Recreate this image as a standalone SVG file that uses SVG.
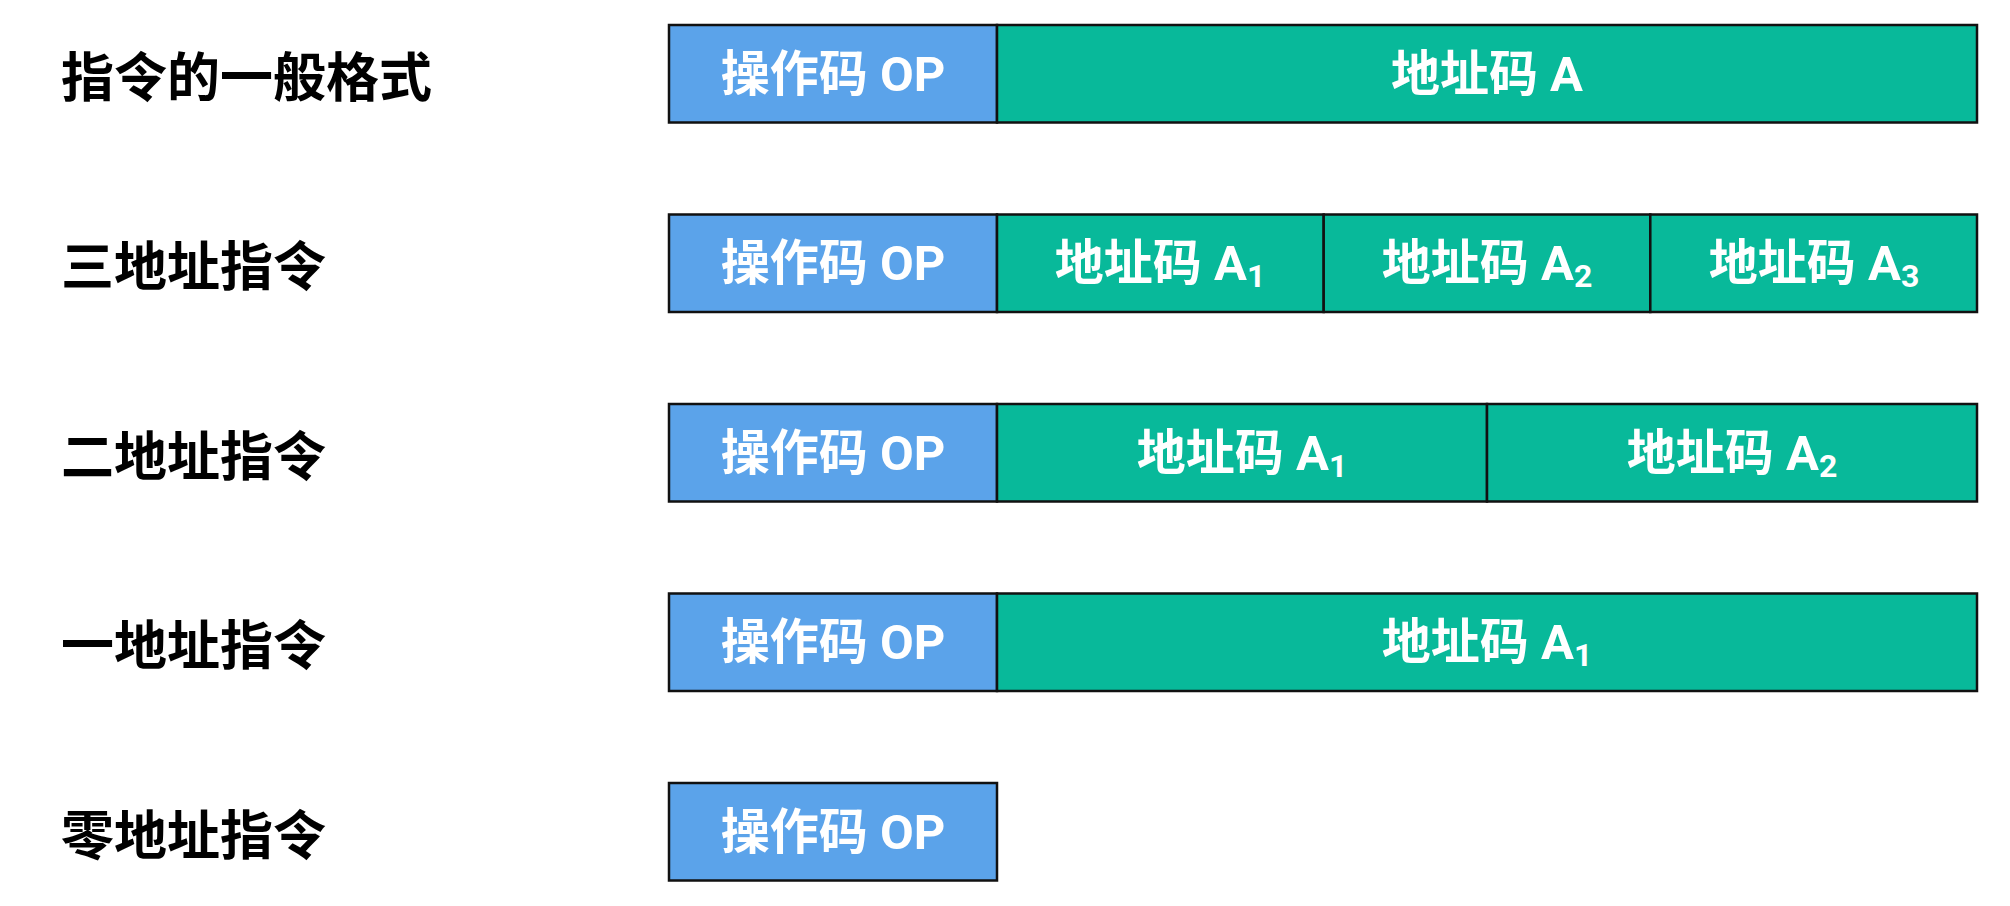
<svg xmlns="http://www.w3.org/2000/svg" width="2010" height="906" viewBox="0 0 2010 906">
<style>
.lbl{font-family:"Noto Sans CJK SC","Liberation Sans",sans-serif;font-weight:bold;font-size:53px;fill:#000;dominant-baseline:central}
.op{fill:#5BA3EA;stroke:#111;stroke-width:2.5}
.ad{fill:#08B99A;stroke:#111;stroke-width:2.5}
.t{font-family:Roboto,"Noto Sans CJK SC",sans-serif;font-weight:bold;font-size:49px;fill:#fff;text-anchor:middle;dominant-baseline:central}
.s{font-size:32px}
</style>
<rect width="2010" height="906" fill="#fff"/>
<g id="labels">
<text class="lbl" x="61" y="74">指令的一般格式</text>
<text class="lbl" x="61" y="263">三地址指令</text>
<text class="lbl" x="61" y="453">二地址指令</text>
<text class="lbl" x="61" y="642">一地址指令</text>
<text class="lbl" x="61" y="832">零地址指令</text>
</g>
<g id="row-general">
<rect class="op" x="669" y="25" width="328" height="97.5"/>
<rect class="ad" x="997" y="25" width="980" height="97.5"/>
<text class="t" x="833" y="74">操作码 OP</text>
<text class="t" x="1487" y="74">地址码 A</text>
</g>
<g id="row-three">
<rect class="op" x="669" y="214.5" width="328" height="97.5"/>
<rect class="ad" x="997" y="214.5" width="326.7" height="97.5"/>
<rect class="ad" x="1323.7" y="214.5" width="326.6" height="97.5"/>
<rect class="ad" x="1650.3" y="214.5" width="326.7" height="97.5"/>
<text class="t" x="833" y="263">操作码 OP</text>
<text class="t" x="1160" y="263">地址码 A<tspan class="s" dy="13">1</tspan></text>
<text class="t" x="1487" y="263">地址码 A<tspan class="s" dy="13">2</tspan></text>
<text class="t" x="1814" y="263">地址码 A<tspan class="s" dy="13">3</tspan></text>
</g>
<g id="row-two">
<rect class="op" x="669" y="404" width="328" height="97.5"/>
<rect class="ad" x="997" y="404" width="490" height="97.5"/>
<rect class="ad" x="1487" y="404" width="490" height="97.5"/>
<text class="t" x="833" y="453">操作码 OP</text>
<text class="t" x="1242" y="453">地址码 A<tspan class="s" dy="13">1</tspan></text>
<text class="t" x="1732" y="453">地址码 A<tspan class="s" dy="13">2</tspan></text>
</g>
<g id="row-one">
<rect class="op" x="669" y="593.5" width="328" height="97.5"/>
<rect class="ad" x="997" y="593.5" width="980" height="97.5"/>
<text class="t" x="833" y="642">操作码 OP</text>
<text class="t" x="1487" y="642">地址码 A<tspan class="s" dy="13">1</tspan></text>
</g>
<g id="row-zero">
<rect class="op" x="669" y="783" width="328" height="97.5"/>
<text class="t" x="833" y="832">操作码 OP</text>
</g>
<g id="connectors"/>
</svg>
